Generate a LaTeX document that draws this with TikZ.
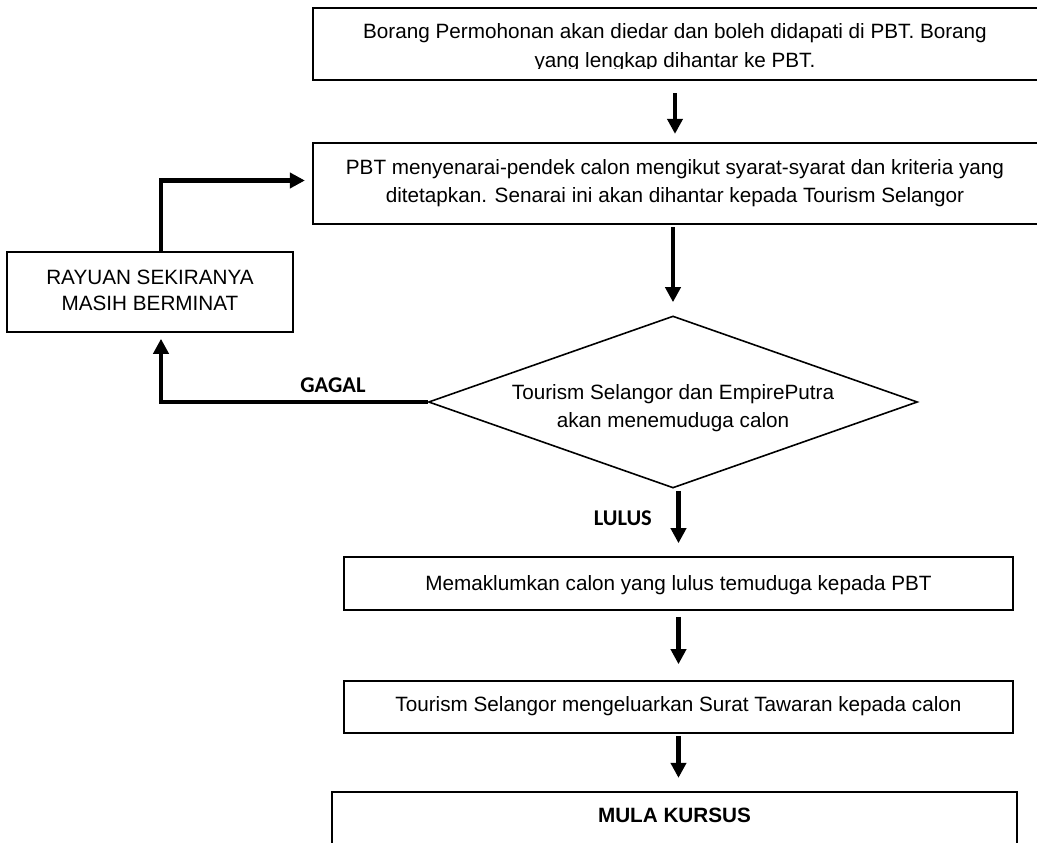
\documentclass[tikz,border=0pt]{standalone}
\usepackage{fontspec}
\setmainfont{Liberation Sans}
\newfontfamily\calfont{Carlito}
\usetikzlibrary{shapes.geometric,arrows.meta}
\begin{document}
\begin{tikzpicture}[x=1pt,y=-1pt,
  box/.style={draw=black, line width=1.6pt, rectangle, inner sep=0pt},
  thickbox/.style={box, line width=2.2pt},
  txt/.style={align=center, font={\fontsize{20.7}{28}\selectfont}, inner sep=0pt},
  lbl/.style={font={\calfont\bfseries\fontsize{22.5}{27}\selectfont}, inner sep=0pt},
  arr/.style={line width=4.7pt, -{Triangle[width=15pt,length=15pt]}},
]
\useasboundingbox (0,0) rectangle (1037,843);

% boxes
\node[thickbox, minimum width=732pt, minimum height=72pt] (box1) at (679,44) {};
\begin{scope}
\clip (313,8) rectangle (1037,68.5);
\node[txt, font={\fontsize{20.7}{29}\selectfont}] (t1) at (675,48) {Borang Permohonan akan diedar dan boleh didapati di PBT. Borang\\yang lengkap dihantar ke PBT.};
\end{scope}

\node[thickbox, minimum width=732pt, minimum height=81pt] (box2) at (679,183.5) {};
\node[txt] (t2) at (675,183) {PBT menyenarai-pendek calon mengikut syarat-syarat dan kriteria yang\\ditetapkan. Senarai ini akan dihantar kepada Tourism Selangor};

\node[box, minimum width=286pt, minimum height=80pt] (ray) at (150,292) {};
\node[txt, font={\fontsize{20.7}{26}\selectfont}] (tr) at (150,290) {RAYUAN SEKIRANYA\\MASIH BERMINAT};

\node[draw=black, line width=1.6pt, diamond, inner sep=0pt, minimum width=489pt, minimum height=172pt] (d) at (673,402) {};
\node[txt] (td) at (673,408) {Tourism Selangor dan EmpirePutra\\akan menemuduga calon};

\node[box, minimum width=669pt, minimum height=53pt] (box3) at (678.5,583.5) {};
\node[txt] (t3) at (678.5,585) {Memaklumkan calon yang lulus temuduga kepada PBT};

\node[box, minimum width=669pt, minimum height=52pt] (box4) at (678.5,707) {};
\node[txt] (t4) at (678.5,706) {Tourism Selangor mengeluarkan Surat Tawaran kepada calon};

\node[thickbox, minimum width=685pt, minimum height=80pt] (box5) at (674.5,832) {};
\node[txt, font={\bfseries\fontsize{20.7}{28}\selectfont}] (t5) at (674.5,815) {MULA KURSUS};

% labels
\node[lbl] (gagal) at (333,385) {GAGAL};
\node[lbl, anchor=east] (lulus) at (652,518) {LULUS};

% connectors
\draw[arr, shorten <=12pt, shorten >=8pt] (box1.south -| 675,0) -- (box2.north -| 675,0);
\draw[arr, shorten <=2pt, shorten >=13pt] (box2.south -| d.north) -- (d.north);
\draw[arr, shorten >=6pt] (d.west) -| ([xshift=11pt]ray.south);
\draw[arr, shorten >=7pt] ([xshift=11pt]ray.north) |- ([yshift=3pt]box2.west);
\draw[arr, shorten <=2pt, shorten >=13pt] (d.south -| box3.north) -- (box3.north);
\draw[arr, shorten <=6pt, shorten >=16pt] (box3.south) -- (box4.north);
\draw[arr, shorten <=2pt, shorten >=13pt] (box4.south) -- (box5.north -| box4.south);
\end{tikzpicture}
\end{document}
